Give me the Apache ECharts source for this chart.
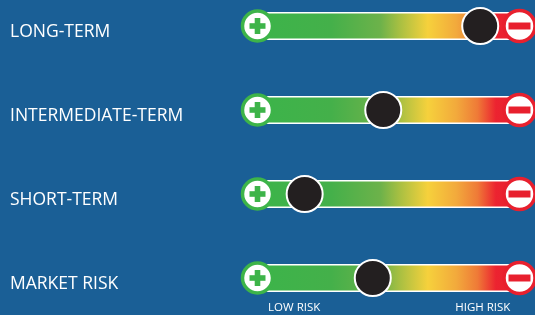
<!DOCTYPE html>
<html>
<head>
<meta charset="utf-8">
<script src="https://cdn.jsdelivr.net/npm/echarts@6/dist/echarts.min.js"></script>
<style>
  html, body { margin: 0; padding: 0; background: #1a5f96; }
  #chart { width: 535px; height: 315px; }
</style>
</head>
<body>
<div id="chart"></div>
<script>
// rows, top to bottom
const categories = ['LONG-TERM', 'INTERMEDIATE-TERM', 'SHORT-TERM', 'MARKET RISK']
// marker position on a 0 (low risk) .. 100 (high risk) scale
const riskValues = [85, 48, 18, 44]
const scaleMax = 100
const riskTickValues = [14, 86]
const riskTickLabels = ['LOW RISK', 'HIGH RISK']

const chart = echarts.init(document.getElementById('chart'))

const barGradient = new echarts.graphic.LinearGradient(0, 0, 1, 0, [
  { offset: 0, color: '#3cb44a' },
  { offset: 0.28, color: '#44b04a' },
  { offset: 0.47, color: '#6db24a' },
  { offset: 0.54, color: '#a6bf42' },
  { offset: 0.65, color: '#f6d13c' },
  { offset: 0.76, color: '#f2a93c' },
  { offset: 0.84, color: '#ef7a37' },
  { offset: 0.91, color: '#ec2330' },
  { offset: 1, color: '#e8202e' },
])

// plus / minus end caps
function renderCaps(params, api) {
  const row = api.value(0)
  const left = api.coord([0, row])
  const right = api.coord([scaleMax, row])
  const green = '#3db449'
  const red = '#e8202e'
  return {
    type: 'group',
    children: [
      { type: 'circle', shape: { cx: left[0], cy: left[1], r: 15 }, style: { fill: '#fff', stroke: green, lineWidth: 3.5 } },
      { type: 'rect', shape: { x: left[0] - 8, y: left[1] - 2.8, width: 16, height: 5.6 }, style: { fill: green } },
      { type: 'rect', shape: { x: left[0] - 2.8, y: left[1] - 8, width: 5.6, height: 16 }, style: { fill: green } },
      { type: 'circle', shape: { cx: right[0], cy: right[1], r: 15.5 }, style: { fill: '#fff', stroke: red, lineWidth: 3.5 } },
      { type: 'rect', shape: { x: right[0] - 11, y: right[1] - 3.5, width: 22, height: 7 }, style: { fill: red } },
    ]
  }
}

chart.setOption({
  backgroundColor: '#1a5f96',
  animation: false,
  grid: { left: 257.5, width: 262, top: 26, bottom: 37, containLabel: false },
  xAxis: {
    type: 'value',
    min: 0,
    max: scaleMax,
    splitLine: { show: false },
    axisLine: { show: false },
    axisTick: { show: false },
    axisLabel: {
      customValues: riskTickValues,
      formatter: v => riskTickLabels[riskTickValues.indexOf(v)] || '',
      color: '#fff',
      fontFamily: 'Open Sans',
      fontSize: 11.5,
      margin: 24,
    },
  },
  yAxis: {
    type: 'category',
    data: categories,
    inverse: true,
    boundaryGap: false,
    axisLine: { show: false },
    axisTick: { show: false },
    splitLine: { show: false },
    axisLabel: {
      align: 'left',
      verticalAlign: 'top',
      lineHeight: 12,
      margin: 247.5,
      color: '#fff',
      fontFamily: 'Open Sans',
      fontSize: 17.5,
    },
  },
  series: [
    {
      type: 'bar',
      data: categories.map(() => scaleMax),
      barWidth: 28,
      itemStyle: { color: barGradient, borderColor: '#fff', borderWidth: 1.5 },
      silent: true,
      z: 1,
    },
    {
      type: 'custom',
      renderItem: renderCaps,
      data: categories.map((c, i) => [i]),
      encode: { y: 0 },
      z: 2,
    },
    {
      type: 'scatter',
      data: riskValues.map((v, i) => [v, i]),
      symbol: 'circle',
      symbolSize: 36,
      itemStyle: { color: '#231f20', borderColor: '#fff', borderWidth: 2, opacity: 1 },
      z: 3,
    },
  ],
})
</script>
</body>
</html>
